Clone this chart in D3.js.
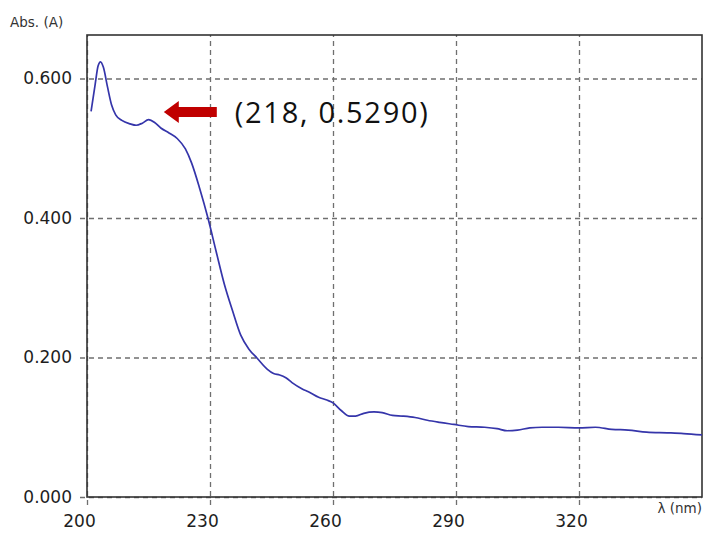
<!DOCTYPE html>
<html>
<head>
<meta charset="utf-8">
<script src="https://cdn.jsdelivr.net/npm/d3@7"></script>
<style>
  html, body { margin: 0; padding: 0; background: #fff; }
  svg { display: block; }
</style>
</head>
<body>
<svg id="chart" width="706" height="534"></svg>
<script>
// Absorption spectrum: wavelength (nm) vs absorbance (A)
const wavelengths = [
  201, 202, 202.7, 203.3, 204, 205, 206, 207, 208.5, 210.5,
  212, 213.5, 215, 216.5, 218, 220, 222, 224, 225.5, 227.5,
  229.5, 231.5, 233.5, 235.5, 237.5, 239.5, 241.5, 244, 245.5, 247,
  248.5, 250, 252.5, 254, 256.5, 258.5, 260, 262, 264, 265.5,
  267.5, 270, 272, 274.5, 277, 280, 283, 286, 289.5, 293,
  297, 300, 302.5, 305, 308, 311, 315, 320, 324, 328,
  332, 336.5, 341.5, 345.5, 350
];
const absorbance = [
  0.553, 0.592, 0.618, 0.624, 0.616, 0.588, 0.562, 0.548, 0.540, 0.535,
  0.533, 0.536, 0.541, 0.537, 0.529, 0.522, 0.514, 0.499, 0.479, 0.442,
  0.400, 0.352, 0.305, 0.267, 0.232, 0.212, 0.199, 0.183, 0.177, 0.175,
  0.171, 0.164, 0.155, 0.151, 0.143, 0.139, 0.135, 0.124, 0.116, 0.116,
  0.120, 0.122, 0.121, 0.117, 0.116, 0.114, 0.110, 0.107, 0.104, 0.101,
  0.100, 0.098, 0.095, 0.096, 0.099, 0.100, 0.100, 0.099, 0.100, 0.097,
  0.096, 0.093, 0.092, 0.091, 0.089
];
const xTicks = [200, 230, 260, 290, 320];
const yTicks = [0, 0.2, 0.4, 0.6];
const yAxisTitle = "Abs. (A)";
const xAxisTitle = "λ (nm)";
const markedNm = 218;
const markedAbs = 0.5290;

const svg = d3.select("#chart");
const plotL = 87, plotR = 702, plotT = 35, plotB = 497;

const x = d3.scaleLinear().domain([200, 350]).range([plotL, plotR]);
const y = d3.scaleLinear().domain([0, 0.6624]).range([plotB, plotT]);

const gridColor = "#6f6f6f";
const textColor = "#1e1e1e";
const tickFont = "DejaVu Sans, Verdana, sans-serif";

// Y axis with dashed grid lines that poke out past the frame as ticks
const gy = svg.append("g")
  .attr("transform", `translate(${plotL},0)`)
  .call(d3.axisLeft(y).tickValues(yTicks).tickFormat(d3.format(".3f"))
    .tickSize(-(plotR - plotL)).tickSizeOuter(0).tickPadding(15));
gy.select(".domain").remove();
gy.selectAll(".tick line")
  .attr("x1", -7)
  .attr("stroke", gridColor)
  .attr("stroke-width", 1.3)
  .attr("stroke-dasharray", "5,4");
gy.selectAll(".tick text")
  .attr("fill", textColor)
  .style("font-family", tickFont)
  .style("font-size", "17px");

// X axis
const gx = svg.append("g")
  .attr("transform", `translate(0,${plotB})`)
  .call(d3.axisBottom(x).tickValues(xTicks).tickFormat(d3.format("d"))
    .tickSize(-(plotB - plotT)).tickSizeOuter(0).tickPadding(18));
gx.select(".domain").remove();
gx.selectAll(".tick line")
  .attr("y1", 8)
  .attr("stroke", gridColor)
  .attr("stroke-width", 1.3)
  .attr("stroke-dasharray", "5,4");
gx.selectAll(".tick text")
  .attr("fill", textColor)
  .attr("dx", -8)
  .style("font-family", tickFont)
  .style("font-size", "17px");

// Plot frame
svg.append("rect")
  .attr("x", plotL).attr("y", plotT)
  .attr("width", plotR - plotL).attr("height", plotB - plotT)
  .attr("fill", "none")
  .attr("stroke", "#333")
  .attr("stroke-width", 1.6);

// Spectrum line
const pts = wavelengths.map((w, i) => [w, absorbance[i]]);
svg.append("path")
  .datum(pts)
  .attr("fill", "none")
  .attr("stroke", "#3535aa")
  .attr("stroke-width", 1.7)
  .attr("stroke-linejoin", "round")
  .attr("d", d3.line().x(d => x(d[0])).y(d => y(d[1])).curve(d3.curveMonotoneX));

// Axis titles
svg.append("text")
  .attr("x", 10).attr("y", 27)
  .attr("fill", "#333")
  .style("font-family", tickFont)
  .style("font-size", "13.5px")
  .text(yAxisTitle);
svg.append("text")
  .attr("x", plotR).attr("y", 513)
  .attr("text-anchor", "end")
  .attr("fill", "#333")
  .style("font-family", tickFont)
  .style("font-size", "13.5px")
  .text(xAxisTitle);

// Arrow pointing at the marked point, with its coordinates
const tipX = x(markedNm) + 3, tipY = y(markedAbs) - 16;
const arrow = [
  [tipX, tipY],
  [tipX + 15, tipY - 11],
  [tipX + 15, tipY - 5],
  [tipX + 53, tipY - 5],
  [tipX + 53, tipY + 5],
  [tipX + 15, tipY + 5],
  [tipX + 15, tipY + 11]
];
svg.append("path")
  .attr("d", d3.line()(arrow) + "Z")
  .attr("fill", "#c00000");

svg.append("text")
  .attr("x", tipX + 71).attr("y", tipY + 11)
  .attr("fill", "#111")
  .attr("textLength", 193)
  .attr("lengthAdjust", "spacing")
  .style("font-family", "Open Sans, sans-serif")
  .style("font-size", "29px")
  .text(`(${markedNm}, ${markedAbs.toFixed(4)})`);
</script>
</body>
</html>
